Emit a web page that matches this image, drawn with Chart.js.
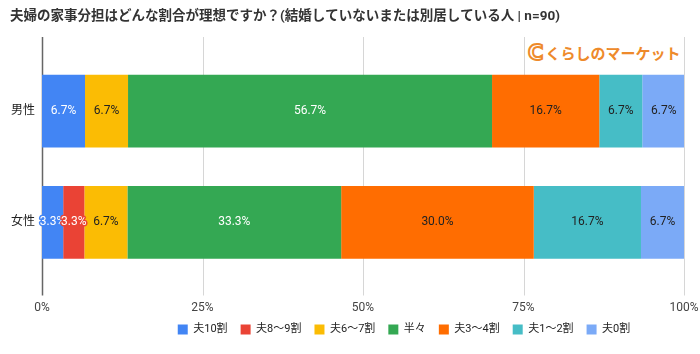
<!DOCTYPE html>
<html>
<head>
<meta charset="utf-8">
<script src="https://cdn.jsdelivr.net/npm/chart.js@4/dist/chart.umd.min.js"></script>
<style>
    html, body { margin: 0; padding: 0; background: #fff; }
    #wrap { position: relative; width: 700px; height: 354px; }
    #logo {
        position: absolute; left: 525px; top: 39px; height: 28px; padding: 0 3px;
        background: #fff; color: #ee8a2b; font: bold 15px 'Noto Sans CJK JP', sans-serif;
        line-height: 28px; white-space: nowrap;
    }
    #logo .c {
        color: #fff; -webkit-text-stroke: 2px #ee8a2b; font-size: 21px; margin-right: 2px;
        font-family: 'DejaVu Sans', sans-serif; vertical-align: -1px;
    }
</style>
</head>
<body>
<div id="wrap">
    <canvas id="chart" width="700" height="354"></canvas>
    <div id="logo"><span class="c">C</span>くらしのマーケット</div>
</div>
<script>
// categories and series
const categories = ['男性', '女性'];
const seriesNames = ['夫10割', '夫8〜9割', '夫6〜7割', '半々', '夫3〜4割', '夫1〜2割', '夫0割'];
const husband10 = [6.7, 3.3];
const husband8to9 = [0, 3.3];
const husband6to7 = [6.7, 6.7];
const halfHalf = [56.7, 33.3];
const husband3to4 = [16.7, 30.0];
const husband1to2 = [6.7, 16.7];
const husband0 = [6.7, 6.7];
const xTicks = [0, 25, 50, 75, 100];

const seriesValues = [husband10, husband8to9, husband6to7, halfHalf, husband3to4, husband1to2, husband0];
const colors = ['#4285f4', '#ea4335', '#fbbc04', '#34a853', '#ff6d01', '#46bdc6', '#7baaf7'];
const labelColors = ['#fff', '#fff', '#222', '#fff', '#222', '#222', '#222'];

Chart.defaults.font.family = "Roboto, 'Noto Sans CJK JP', sans-serif";

// value labels on the bars, with a halo in the bar colour
const barLabels = {
    id: 'barLabels',
    afterDatasetsDraw(chart) {
        const ctx = chart.ctx;
        ctx.save();
        ctx.font = "12px Roboto, 'Noto Sans CJK JP', sans-serif";
        ctx.textAlign = 'center';
        ctx.textBaseline = 'middle';
        ctx.lineJoin = 'round';
        chart.data.datasets.forEach((ds, i) => {
            chart.getDatasetMeta(i).data.forEach((bar, j) => {
                const v = ds.data[j];
                if (!v) return;
                const text = v.toFixed(1) + '%';
                const cx = (bar.x + bar.base) / 2;
                ctx.lineWidth = 3;
                ctx.strokeStyle = colors[i];
                ctx.strokeText(text, cx, bar.y);
                ctx.fillStyle = labelColors[i];
                ctx.fillText(text, cx, bar.y);
            });
        });
        ctx.restore();
    }
};

// vertical gridlines that run a little past the plot area, like the original
const longGrid = {
    id: 'longGrid',
    beforeDatasetsDraw(chart) {
        const { ctx, chartArea, scales: { x } } = chart;
        ctx.save();
        x.ticks.forEach((t, i) => {
            const px = Math.round(x.getPixelForValue(t.value)) + 0.5;
            ctx.beginPath();
            ctx.strokeStyle = i === 0 ? '#666' : '#d6d6d6';
            ctx.lineWidth = i === 0 ? 1.5 : 1;
            ctx.moveTo(px, chartArea.top - 18.5);
            ctx.lineTo(px, chartArea.bottom + 17.5);
            ctx.stroke();
        });
        ctx.restore();
    }
};

// legend in the original sits right of centre
const shiftLegend = {
    id: 'shiftLegend',
    afterLayout(chart) {
        chart.legend.left += 57;
        chart.legend.right += 57;
    }
};

new Chart(document.getElementById('chart'), {
    type: 'bar',
    data: {
        labels: categories,
        datasets: seriesValues.map((vals, i) => ({
            label: seriesNames[i],
            data: vals,
            backgroundColor: colors[i],
            borderWidth: 0,
            barPercentage: 0.653,
            categoryPercentage: 1
        }))
    },
    options: {
        indexAxis: 'y',
        responsive: false,
        animation: false,
        layout: { padding: { left: 10, right: 16, top: 0, bottom: 9 } },
        scales: {
            x: {
                stacked: true,
                min: 0,
                max: 100,
                afterBuildTicks(scale) { scale.ticks = xTicks.map(v => ({ value: v })); },
                afterFit(scale) {
                    scale.height = 33;
                    scale.paddingLeft = 0;
                    scale.paddingRight = 0;
                },
                grid: { display: false, drawTicks: false },
                border: { display: false },
                ticks: {
                    padding: 23,
                    color: '#444',
                    font: { size: 12 },
                    callback: v => v + '%'
                }
            },
            y: {
                stacked: true,
                afterFit(scale) { scale.width = 32; },
                grid: { display: false, drawTicks: false },
                border: { display: false },
                ticks: { padding: 7, color: '#222', font: { size: 12 } }
            }
        },
        plugins: {
            title: {
                display: true,
                text: '夫婦の家事分担はどんな割合が理想ですか？(結婚していないまたは別居している人 | n=90)',
                align: 'start',
                color: '#333',
                font: { size: 13.5, weight: 'bold' },
                padding: { top: 8.9, bottom: 30.4 }
            },
            legend: {
                position: 'bottom',
                labels: {
                    boxWidth: 10,
                    boxHeight: 10,
                    padding: 13,
                    color: '#222',
                    font: { size: 11 }
                }
            },
            tooltip: { enabled: false }
        }
    },
    plugins: [longGrid, barLabels, shiftLegend]
});
</script>
</body>
</html>
